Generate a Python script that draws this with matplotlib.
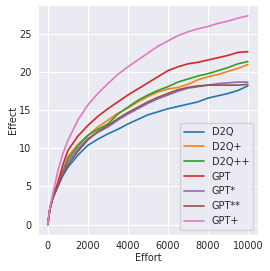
import matplotlib
matplotlib.use("Agg")
import matplotlib.pyplot as plt
import seaborn as sns

sns.set_style("darkgrid")

# effort sample points
effort = [0, 100, 250, 500, 750, 1000, 1500, 2000, 2500, 3000, 3500, 4000, 4500, 5000,
          5500, 6000, 6500, 7000, 7500, 8000, 8500, 9000, 9500, 10000]

# effect per method
d2q   = [0, 2.0, 3.5, 5.0, 6.4, 7.5, 9.1, 10.4, 11.2, 11.9, 12.5, 13.2, 13.8, 14.4,
         14.8, 15.2, 15.5, 15.8, 16.1, 16.6, 16.9, 17.2, 17.6, 18.2]
d2qp  = [0, 2.0, 3.5, 5.2, 7.0, 8.9, 10.5, 11.7, 12.8, 13.7, 14.6, 15.3, 16.1, 16.8,
         17.4, 17.8, 18.0, 18.4, 19.0, 19.4, 19.7, 20.1, 20.5, 21.0]
d2qpp = [0, 2.0, 3.5, 5.2, 7.0, 8.6, 10.3, 11.7, 12.5, 13.2, 14.5, 15.4, 16.3, 17.0,
         17.6, 18.1, 18.7, 19.1, 19.5, 19.8, 20.2, 20.6, 21.1, 21.4]
gpt   = [0, 2.0, 3.6, 5.5, 7.8, 9.7, 11.6, 13.0, 14.2, 15.2, 16.1, 17.0, 17.8, 18.6,
         19.4, 20.2, 20.7, 21.1, 21.3, 21.6, 21.9, 22.2, 22.6, 22.7]
gpts  = [0, 2.0, 3.5, 5.0, 6.8, 8.2, 9.9, 11.3, 12.1, 12.8, 13.7, 14.5, 15.2, 15.9,
         16.5, 17.0, 17.5, 17.9, 18.1, 18.3, 18.5, 18.6, 18.7, 18.7]
gptss = [0, 2.0, 3.5, 5.0, 6.6, 7.8, 9.6, 11.1, 12.2, 13.0, 13.9, 14.7, 15.4, 16.1,
         16.7, 17.2, 17.7, 18.0, 18.2, 18.3, 18.3, 18.3, 18.3, 18.4]
gptp  = [0, 2.1, 4.0, 7.0, 9.3, 11.0, 13.7, 15.7, 17.2, 18.5, 19.7, 20.7, 21.6, 22.5,
         23.4, 24.1, 24.8, 25.3, 25.7, 26.0, 26.4, 26.7, 27.1, 27.4]

series = [("D2Q", d2q), ("D2Q+", d2qp), ("D2Q++", d2qpp), ("GPT", gpt),
          ("GPT*", gpts), ("GPT**", gptss), ("GPT+", gptp)]

fig, ax = plt.subplots(figsize=(2.7, 2.71), dpi=100)
fig.subplots_adjust(left=0.14, right=0.955, top=0.98, bottom=0.133)

for name, vals in series:
    ax.plot(effort, vals, label=name, linewidth=1.2)

ax.set_xlabel("Effort", fontsize=7, labelpad=1)
ax.set_ylabel("Effect", fontsize=7, labelpad=1)
ax.tick_params(labelsize=7, pad=1)
ax.set_xticks([0, 2000, 4000, 6000, 8000, 10000])
ax.set_yticks([0, 5, 10, 15, 20, 25])
ax.legend(loc="lower right", fontsize=7)

plt.savefig("out.png")
